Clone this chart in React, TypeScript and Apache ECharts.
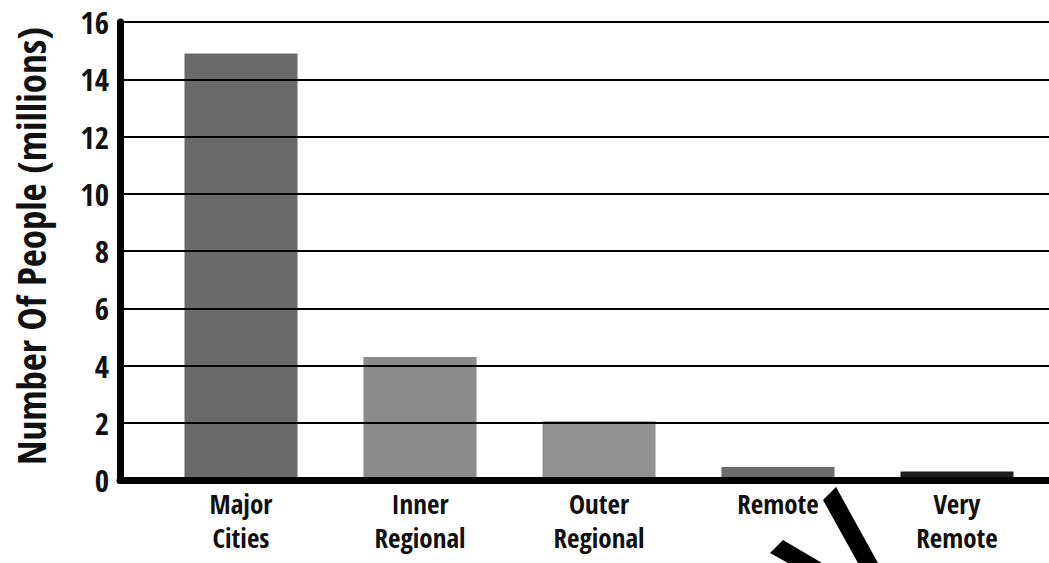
import React, { useEffect, useRef } from "react";
import * as echarts from "echarts";

const categories = ["Major\nCities", "Inner\nRegional", "Outer\nRegional", "Remote", "Very\nRemote"];
const values = [14.9, 4.3, 2.05, 0.45, 0.3];
const barColors = ["#6a6a6a", "#8b8b8b", "#919191", "#6c6c6c", "#1e1e1e"];
const yTicks = { min: 0, max: 16, interval: 2 };
const yTitle = "Number Of People (millions)";

const FONT = "'Open Sans Condensed', 'Roboto Condensed', sans-serif";

export default function App() {
  const ref = useRef<HTMLDivElement>(null);
  useEffect(() => {
    if (!ref.current) return;
    const chart = echarts.init(ref.current, undefined, { renderer: "svg" });
    chart.setOption({
      animation: false,
      backgroundColor: "#ffffff",
      grid: [
        { left: 120, top: 22, right: -10, bottom: 83, outerBoundsMode: "none", containLabel: false },
        { left: 151.5, top: 22, right: 2.5, bottom: 83, outerBoundsMode: "none", containLabel: false },
      ],
      xAxis: [
        {
          type: "value",
          gridIndex: 0,
          min: 0,
          max: 1,
          axisLine: { show: true, lineStyle: { color: "#000", width: 7 } },
          axisTick: { show: false },
          axisLabel: { show: false },
          splitLine: { show: false },
          z: 5,
        },
        {
          type: "category",
          gridIndex: 1,
          data: categories,
          boundaryGap: true,
          axisLine: { show: false },
          axisTick: { show: false },
          axisLabel: {
            color: "#111",
            fontFamily: FONT,
            fontWeight: "bold",
            fontSize: 27,
            lineHeight: 34,
            margin: 6,
            interval: 0,
          },
        },
      ],
      yAxis: [
        {
          type: "value",
          gridIndex: 0,
          min: yTicks.min,
          max: yTicks.max,
          interval: yTicks.interval,
          z: 5,
          name: yTitle,
          nameLocation: "middle",
          nameGap: 70,
          nameTextStyle: {
            color: "#111",
            fontFamily: FONT,
            fontWeight: "bold",
            fontSize: 39,
            padding: [0, 0, 0, 10],
          },
          axisLine: { show: true, lineStyle: { color: "#000", width: 7 } },
          axisTick: { show: false },
          axisLabel: {
            color: "#111",
            fontFamily: FONT,
            fontWeight: "bold",
            fontSize: 31,
            margin: 11,
          },
          splitLine: { show: true, lineStyle: { color: "#000", width: 2 } },
        },
        {
          type: "value",
          gridIndex: 1,
          min: yTicks.min,
          max: yTicks.max,
          interval: yTicks.interval,
          show: false,
          splitLine: { show: false },
        },
      ],
      series: [
        {
          type: "bar",
          xAxisIndex: 1,
          yAxisIndex: 1,
          barWidth: 113,
          data: values.map((v, i) => ({ value: v, itemStyle: { color: barColors[i] } })),
        },
      ],
      graphic: [
        {
          type: "polygon",
          z: 100,
          shape: { points: [[823, 500], [836, 487], [878, 563], [858, 563]] },
          style: { fill: "#000" },
        },
        {
          type: "polygon",
          z: 100,
          shape: { points: [[770, 553], [783, 540], [822, 563], [788, 563]] },
          style: { fill: "#000" },
        },
      ],
    });
    return () => chart.dispose();
  }, []);
  return (
    <div
      ref={ref}
      style={{ position: "fixed", left: 0, top: 0, width: 1049, height: 563 }}
    />
  );
}
